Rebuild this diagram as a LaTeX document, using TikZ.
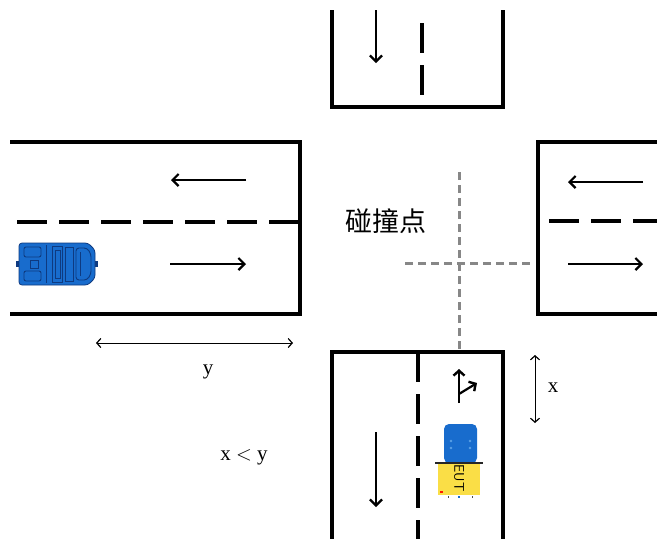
\documentclass[tikz,border=0pt]{standalone}
\usepackage{fontspec}
\setmainfont{Liberation Serif}
\newfontfamily\cjkfont{Noto Sans CJK SC}
\usetikzlibrary{arrows.meta}
\definecolor{carblue}{RGB}{24,108,205}
\definecolor{cardark}{RGB}{14,58,128}
\definecolor{carlight}{RGB}{90,160,230}
\definecolor{caryellow}{RGB}{250,222,70}
\definecolor{crossgray}{RGB}{135,135,135}
\begin{document}
\begin{tikzpicture}[x=1pt,y=-1pt,
  roadedge/.style={line width=4pt, line join=miter},
  lanedash/.style={line width=4pt, dash pattern=on 30pt off 12pt},
  lanearrow/.style={line width=2pt, -{Straight Barb[length=6pt,width=12pt,line width=2.2pt]}},
  crossline/.style={crossgray, line width=3pt, dash pattern=on 8pt off 5pt},
  dimarrow/.style={line width=1pt, {Straight Barb[length=4pt,width=9pt,line width=1.2pt]}-{Straight Barb[length=4pt,width=9pt,line width=1.2pt]}},
  label/.style={inner sep=0pt, font=\fontsize{21}{21}\selectfont},
  cardetail/.style={draw=cardark, line width=0.9pt}]
\fill[white] (0,0) rectangle (657,539);
\useasboundingbox (0,0) rectangle (657,539);

% road edges
\draw[roadedge] (10,142) -- (300,142) -- (300,314) -- (10,314);
\draw[roadedge] (332,10) -- (332,107) -- (503,107) -- (503,10);
\draw[roadedge] (657,142) -- (538,142) -- (538,314) -- (657,314);
\draw[roadedge] (332,539) -- (332,352) -- (503,352) -- (503,539);

% lane dividers
\draw[lanedash] (17,222) -- (300,222);
\draw[lanedash] (549,221) -- (657,221);
\draw[lanedash] (422,23) -- (422,95);
\draw[lanedash] (418,352) -- (418,539);

% driving directions
\coordinate (wA1) at (246,180); \coordinate (wA2) at (171,180);
\coordinate (wB1) at (170,264); \coordinate (wB2) at (246,264);
\coordinate (eA1) at (643,182); \coordinate (eA2) at (568,182);
\coordinate (eB1) at (568,264); \coordinate (eB2) at (643,264);
\coordinate (nA1) at (376,10);  \coordinate (nA2) at (376,63);
\coordinate (sA1) at (376,432); \coordinate (sA2) at (376,507);
\draw[lanearrow] (wA1) -- (wA2);
\draw[lanearrow] (wB1) -- (wB2);
\draw[lanearrow] (eA1) -- (eA2);
\draw[lanearrow] (eB1) -- (eB2);
\draw[lanearrow] (nA1) -- (nA2);
\draw[lanearrow] (sA1) -- (sA2);

% collision point cross
\coordinate (cv1) at (459,172); \coordinate (cv2) at (459,350);
\coordinate (ch1) at (405,263); \coordinate (ch2) at (531,263);
\draw[crossline] (cv1) -- (cv2);
\draw[crossline] (ch1) -- (ch2);
\node[inner sep=0pt, font=\cjkfont\fontsize{27}{27}\selectfont] (collision) at (386,221) {碰撞点};

% straight-or-right turn sign
\coordinate (ts0) at (459,403); \coordinate (ts1) at (459,369);
\coordinate (tr0) at (459,394); \coordinate (tr1) at (477,383);
\draw[line width=2.2pt, -{Straight Barb[length=5pt,width=11pt,line width=2.4pt]}] (ts0) -- (ts1);
\draw[line width=2.2pt, -{Straight Barb[length=5pt,width=11pt,line width=2.4pt]}] (tr0) -- (tr1);

% distance y
\coordinate (dy1) at (96,343); \coordinate (dy2) at (293,343);
\draw[dimarrow] (dy1) -- (dy2);
\node[label] (ylabel) at (208,372) {y};
\node[label] (cmp) at (244,457) {x $<$ y};

% distance x
\coordinate (dx1) at (535,355); \coordinate (dx2) at (535,423);
\draw[dimarrow] (dx1) -- (dx2);
\node[label] (xlabel) at (553,388) {x};

% crossing car (top view)
\begin{scope}
  \fill[cardark] (16,261) rectangle (20,267);
  \fill[cardark] (94,261) rectangle (98,267);
  \filldraw[fill=carblue, draw=cardark, line width=0.8pt, rounded corners=3pt]
    (19,243) -- (88,243) -- (95,250) -- (95,278) -- (88,285) -- (19,285) -- cycle;
  \draw[cardetail, rounded corners=2pt] (24,247) rectangle (41,257);
  \draw[cardetail, rounded corners=2pt] (24,271) rectangle (41,281);
  \draw[cardetail] (30,260) rectangle (38,268);
  \draw[cardetail] (46,245) -- (46,283);
  \draw[cardetail] (52,246) rectangle (62,282);
  \draw[cardetail] (55,250) rectangle (60,278);
  \draw[cardetail] (65,247) rectangle (73,281);
  \draw[cardetail, rounded corners=3pt] (76,248) -- (87,248) -- (91,254) -- (91,274) -- (87,280) -- (76,280) -- cycle;
  \draw[cardetail] (80,252) -- (80,276);
\end{scope}

% vehicle under test (top view)
\begin{scope}
  \fill[carblue, rounded corners=5pt] (444,463) -- (444,424) -- (477,424) -- (477,463) -- cycle;
  \fill[carlight] (451,441) circle (1.3pt);
  \fill[carlight] (470,441) circle (1.3pt);
  \fill[carlight] (451,448) circle (1.3pt);
  \fill[carlight] (470,448) circle (1.3pt);
  \fill[caryellow] (438,463) rectangle (480,495);
  \draw[black!85, line width=1.2pt] (435,463) -- (483,463);
  \node[inner sep=0pt, rotate=-90, font=\sffamily\fontsize{14}{14}\selectfont] (eut) at (459,478) {EUT};
  \fill[red!80!orange] (440,491) rectangle (443,493);
  \fill[carblue] (458,496) rectangle (460,498);
  \fill[black!70] (448,496) rectangle (449,498);
  \fill[black!70] (472,496) rectangle (473,498);
\end{scope}
\end{tikzpicture}
\end{document}
